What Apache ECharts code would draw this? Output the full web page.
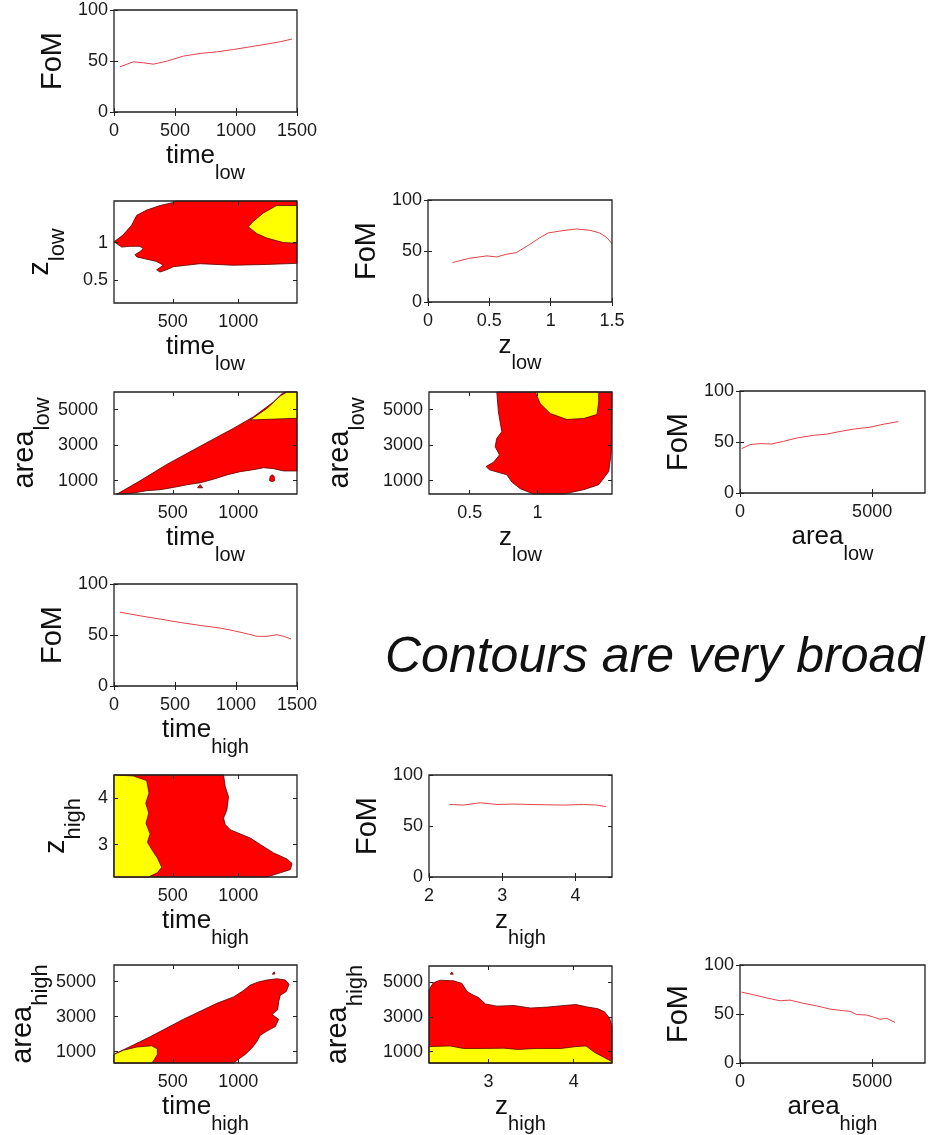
<!DOCTYPE html>
<html>
<head>
<meta charset="utf-8">
<script src="https://cdn.jsdelivr.net/npm/echarts@6/dist/echarts.min.js"></script>
<style>
html,body{margin:0;padding:0;background:#fff}
#main{width:932px;height:1135px}
</style>
</head>
<body>
<div id="main"></div>
<script>
// FoM against a single cut
var timeLowVals = [49, 159, 241, 323, 432, 569, 706, 843, 980, 1117, 1254, 1363, 1459];
var fomTimeLow = [44.3, 49.2, 48.2, 46.9, 49.8, 54.8, 57.4, 59, 61.3, 63.9, 66.6, 68.9, 71.5];
var zLowVals = [0.20, 0.34, 0.48, 0.56, 0.64, 0.72, 0.83, 0.91, 0.98, 1.10, 1.21, 1.32, 1.40, 1.46, 1.50];
var fomZLow = [38.7, 42.9, 45.2, 44.2, 46.8, 48.4, 56.5, 62.9, 67.7, 70, 71.6, 70.3, 67.7, 62.9, 57.1];
var areaLowVals = [63, 378, 757, 1198, 1640, 2144, 2775, 3279, 3784, 4288, 4919, 5423, 5991];
var fomAreaLow = [43.5, 47.4, 48.4, 48.1, 50.6, 53.9, 56.5, 57.7, 60.3, 62.6, 64.5, 67.4, 70];
var timeHighVals = [49, 214, 378, 542, 706, 870, 980, 1089, 1172, 1254, 1336, 1391, 1451];
var fomTimeHigh = [72.4, 68.8, 65.6, 62.3, 59.4, 56.8, 54.2, 51.3, 48.7, 48.7, 50.3, 48.7, 46.1];
var zHighVals = [2.28, 2.47, 2.70, 2.93, 3.15, 3.38, 3.61, 3.84, 4.11, 4.29, 4.42];
var fomZHigh = [71.1, 70.5, 72.8, 71.1, 71.5, 71.1, 70.8, 70.5, 71.1, 70.5, 68.9];
var areaHighVals = [63, 505, 1009, 1514, 1892, 2396, 2901, 3405, 3910, 4162, 4414, 4793, 5045, 5297, 5550, 5865];
var fomAreaHigh = [72.3, 69.7, 66.4, 63.5, 64.2, 60.9, 58.3, 55, 53.4, 52.8, 49.5, 48.9, 46.9, 44.6, 45.6, 41.4];

// contour regions, [x, y] in data units (red = outer level, yellow = inner level)
var redTimeZLow = [[50, 1.01], [109, 0.94], [172, 0.95], [249, 0.95], [274, 0.92], [249, 0.88], [211, 0.84], [224, 0.81],
  [300, 0.78], [376, 0.75], [427, 0.70], [376, 0.64], [402, 0.61], [453, 0.64], [504, 0.68], [606, 0.70], [708, 0.72],
  [963, 0.70], [1218, 0.71], [1450, 0.725], [1450, 1.55], [520, 1.55], [504, 1.53], [402, 1.49], [300, 1.43],
  [224, 1.36], [185, 1.23], [119, 1.10]];
var yellowTimeZLow = [[1450, 1.49], [1294, 1.49], [1192, 1.39], [1115, 1.28], [1077, 1.21], [1141, 1.12], [1218, 1.06],
  [1345, 1.00], [1450, 0.99]];

var redTimeALow = [[83, 287], [249, 992], [454, 1920], [709, 2940], [965, 3960], [1118, 4609], [1271, 5444], [1335, 5908],
  [1360, 6000], [1450, 6000], [1450, 1549], [1348, 1549], [1271, 1678], [1195, 1734], [1118, 1623], [1016, 1511],
  [914, 1326], [811, 1085], [709, 881], [607, 769], [505, 621], [403, 491], [300, 436], [198, 306], [122, 250], [70, 250]];
var yellowTimeALow = [[1092, 4424], [1220, 5073], [1322, 5778], [1373, 6000], [1450, 6000], [1450, 4517]];
var dotTimeALow1 = [[690, 600], [709, 780], [728, 600]];
var dotTimeALow2 = [[1240, 1000], [1245, 1250], [1260, 1330], [1275, 1250], [1278, 1000], [1260, 950]];

var redZALow = [[0.700, 6000], [0.712, 4880], [0.737, 3760], [0.700, 3387], [0.688, 2920], [0.720, 2453], [0.676, 2042],
  [0.621, 1800], [0.646, 1613], [0.774, 1333], [0.811, 922], [0.873, 549], [0.971, 250], [1.193, 250], [1.341, 493],
  [1.452, 773], [1.526, 1520], [1.545, 2640], [1.55, 6000]];
var yellowZALow = [[0.984, 6000], [1.020, 5347], [1.094, 4787], [1.218, 4450], [1.341, 4507], [1.439, 4731],
  [1.452, 5440], [1.452, 6000]];

var redTimeZHigh = [[50, 4.5], [888, 4.5], [901, 4.25], [926, 4.03], [914, 3.75], [888, 3.57], [901, 3.43], [939, 3.32],
  [1016, 3.23], [1092, 3.14], [1169, 3.0], [1271, 2.82], [1373, 2.69], [1412, 2.59], [1399, 2.46], [1322, 2.39],
  [1220, 2.3], [50, 2.3]];
var yellowTimeZHigh = [[50, 4.5], [198, 4.48], [300, 4.38], [318, 4.11], [293, 3.89], [316, 3.68], [295, 3.46],
  [326, 3.23], [306, 3.05], [344, 2.87], [382, 2.71], [415, 2.51], [382, 2.39], [313, 2.3], [50, 2.3]];

var redTimeAHigh = [[50, 842], [326, 1846], [581, 2849], [837, 3761], [965, 4126], [1041, 4490], [1092, 4801],
  [1156, 4983], [1220, 5092], [1297, 5165], [1361, 5092], [1389, 4855], [1368, 4436], [1322, 4217], [1310, 3852],
  [1302, 3396], [1259, 3122], [1310, 2849], [1284, 2429], [1220, 2174], [1169, 1937], [1143, 1572], [1105, 1207],
  [1054, 842], [1003, 569], [965, 350], [50, 350]];
var yellowTimeAHigh = [[50, 842], [122, 1080], [224, 1262], [339, 1335], [382, 1153], [382, 842], [357, 532],
  [339, 350], [50, 350]];
var dotTimeAHigh = [[1262, 5420], [1275, 5560], [1282, 5440]];

var redZAHigh = [[2.30, 4582], [2.351, 4983], [2.430, 5129], [2.588, 5092], [2.686, 4947], [2.745, 4490], [2.805, 4308],
  [2.883, 4126], [2.962, 3761], [3.100, 3633], [3.297, 3670], [3.494, 3524], [3.692, 3578], [3.889, 3670],
  [4.027, 3724], [4.165, 3578], [4.283, 3487], [4.362, 3305], [4.421, 2940], [4.45, 2484], [4.45, 350], [2.30, 350]];
var yellowZAHigh = [[2.30, 1298], [2.548, 1335], [2.706, 1189], [2.943, 1189], [3.179, 1207], [3.337, 1134],
  [3.573, 1189], [3.849, 1189], [4.027, 1298], [4.145, 1335], [4.243, 970], [4.342, 715], [4.45, 423], [4.45, 350],
  [2.30, 350]];
var dotZAHigh = [[2.55, 5480], [2.568, 5600], [2.585, 5480]];

// axis settings
var fomAxis = {min: 0, max: 100, ticks: [0, 50, 100], main: 'FoM', gap: 47};
var timeLowX = {min: 0, max: 1500, ticks: [0, 500, 1000, 1500], main: 'time', sub: 'low'};
var timeHighX = {min: 0, max: 1500, ticks: [0, 500, 1000, 1500], main: 'time', sub: 'high'};
var timeLowC = {min: 50, max: 1450, ticks: [500, 1000], main: 'time', sub: 'low'};
var timeHighC = {min: 50, max: 1450, ticks: [500, 1000], main: 'time', sub: 'high'};
var zLowX = {min: 0, max: 1.5, ticks: [0, 0.5, 1, 1.5], main: 'z', sub: 'low'};
var zLowC = {min: 0.2, max: 1.55, ticks: [0.5, 1], main: 'z', sub: 'low', gap: 45};
var zHighX = {min: 2, max: 4.5, ticks: [2, 3, 4], main: 'z', sub: 'high'};
var zHighCy = {min: 2.3, max: 4.5, ticks: [3, 4], main: 'z', sub: 'high', gap: 29};
var zHighCx = {min: 2.3, max: 4.45, ticks: [3, 4], main: 'z', sub: 'high'};
var areaLowX = {min: 0, max: 7000, ticks: [0, 5000], main: 'area', sub: 'low'};
var areaHighX = {min: 0, max: 7000, ticks: [0, 5000], main: 'area', sub: 'high'};
var areaLowC = {min: 250, max: 6000, ticks: [1000, 3000, 5000], main: 'area', sub: 'low', gap: 60};
var areaHighC = {min: 350, max: 5950, ticks: [1000, 3000, 5000], main: 'area', sub: 'high', gap: 62};

var RED = '#ff0000', YEL = '#ffff00', LINE = '#e3434b';

var panels = [
  {left: 114, top: 10, width: 183, x: timeLowX, y: fomAxis, lines: [[timeLowVals, fomTimeLow]]},
  {left: 114, top: 201, width: 183, x: timeLowC, y: zLowC, polys: [[redTimeZLow, RED], [yellowTimeZLow, YEL]]},
  {left: 428, top: 200, width: 184, x: zLowX, y: fomAxis, lines: [[zLowVals, fomZLow]]},
  {left: 114, top: 392, width: 183, x: timeLowC, y: areaLowC, yMargin: 16,
    polys: [[redTimeALow, RED], [yellowTimeALow, YEL], [dotTimeALow1, RED], [dotTimeALow2, RED]]},
  {left: 429, top: 392, width: 183, x: zLowC, y: areaLowC, polys: [[redZALow, RED], [yellowZALow, YEL]]},
  {left: 740, top: 391, width: 185, x: areaLowX, y: fomAxis, lines: [[areaLowVals, fomAreaLow]]},
  {left: 114, top: 584, width: 183, x: timeHighX, y: fomAxis, lines: [[timeHighVals, fomTimeHigh]]},
  {left: 114, top: 775, width: 183, x: timeHighC, y: zHighCy, polys: [[redTimeZHigh, RED], [yellowTimeZHigh, YEL]]},
  {left: 429, top: 775, width: 183, x: zHighX, y: fomAxis, lines: [[zHighVals, fomZHigh]]},
  {left: 114, top: 965, width: 183, x: timeHighC, y: areaHighC, yMargin: 18,
    polys: [[redTimeAHigh, RED], [yellowTimeAHigh, YEL], [dotTimeAHigh, RED]]},
  {left: 429, top: 966, width: 183, x: zHighCx, y: areaHighC, polys: [[redZAHigh, RED], [yellowZAHigh, YEL], [dotZAHigh, RED]]},
  {left: 740, top: 965, width: 185, x: areaHighX, y: fomAxis, lines: [[areaHighVals, fomAreaHigh]]}
];

var FONT = 'Liberation Sans';
function nameStyle(big, small, drop) {
  return {
    color: '#111', fontFamily: FONT,
    rich: {
      m: {fontSize: big, fontFamily: FONT, color: '#111'},
      s: {fontSize: small, fontFamily: FONT, color: '#111', padding: [drop, 0, 0, 0]}
    }
  };
}
var xNameStyle = nameStyle(26, 20, 34);
var yNameStyle = nameStyle(29, 22, 36);

function richName(c) {
  return c.sub ? '{m|' + c.main + '}{s|' + c.sub + '}' : '{m|' + c.main + '}';
}

function makeAxis(g, c, pos, isX, margin) {
  var main = (pos === 'bottom' || pos === 'left');
  return {
    gridIndex: g, type: 'value', position: pos, min: c.min, max: c.max, z: 6,
    axisLine: {show: false}, splitLine: {show: false},
    axisTick: {show: true, inside: true, length: 4, customValues: c.ticks, lineStyle: {color: '#222', width: 1}},
    axisLabel: {show: main, customValues: c.ticks, fontSize: 18, fontFamily: FONT, color: '#1a1a1a',
      margin: margin, formatter: function (v) { return String(v); }},
    name: main ? richName(c) : '', nameLocation: 'middle', nameRotate: isX ? 0 : 90,
    nameMoveOverlap: false,
    nameGap: isX ? 17 : c.gap, nameTextStyle: isX ? xNameStyle : yNameStyle
  };
}

var option = {
  animation: false,
  backgroundColor: '#fff',
  grid: [], xAxis: [], yAxis: [], series: [],
  graphic: [{
    type: 'text', left: 385, top: 633, z: 10,
    style: {text: 'Contours are very broad', font: 'italic 50px "Liberation Sans"', fill: '#111'}
  }]
};

panels.forEach(function (p, g) {
  option.grid.push({left: p.left, top: p.top, width: p.width, height: 102, show: true,
    borderColor: '#222', borderWidth: 1.3, backgroundColor: 'transparent', z: 5});
  option.xAxis.push(makeAxis(g, p.x, 'bottom', true, 10));
  option.xAxis.push(makeAxis(g, p.x, 'top', true, 10));
  option.yAxis.push(makeAxis(g, p.y, 'left', false, p.yMargin || 6));
  option.yAxis.push(makeAxis(g, p.y, 'right', false, 6));
  (p.polys || []).forEach(function (pp) {
    var pts = pp[0], col = pp[1];
    option.series.push({
      type: 'custom', xAxisIndex: 2 * g, yAxisIndex: 2 * g, z: 2, silent: true,
      data: pts,
      renderItem: function (params, api) {
        if (params.dataIndex !== 0) return;
        var coords = pts.map(function (d) { return api.coord(d); });
        return {type: 'polygon', shape: {points: coords},
          style: {fill: col, stroke: '#5a0000', lineWidth: 0.8}};
      }
    });
  });
  (p.lines || []).forEach(function (ln) {
    option.series.push({
      type: 'line', xAxisIndex: 2 * g, yAxisIndex: 2 * g, z: 3, showSymbol: false, silent: true,
      lineStyle: {color: LINE, width: 1},
      data: ln[0].map(function (v, i) { return [v, ln[1][i]]; })
    });
  });
});

var chart = echarts.init(document.getElementById('main'));
chart.setOption(option);
</script>
</body>
</html>
